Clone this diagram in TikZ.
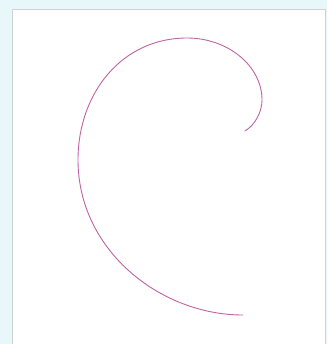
\documentclass[tikz,border=0pt]{standalone}
\usepackage{tikz}
\definecolor{bgcyan}{RGB}{232,248,250}
\definecolor{framegray}{RGB}{205,210,212}
\definecolor{curvepink}{RGB}{190,100,165}

\begin{document}
\begin{tikzpicture}[
        x=1pt, y=-1pt,
        frame/.style={draw=framegray, fill=white, line width=0.8pt},
        spiral/.style={draw=curvepink, line width=0.9pt, line cap=round}
    ]
    
    \useasboundingbox[fill=bgcyan] (0,0) rectangle (327,344);
    \path[frame] (12,9) rectangle (325,346);
    
    \path[spiral] (245,131)
        .. controls (255,125) and (262,112) .. (262,100)
        .. controls (262,66) and (228,38) .. (187,38)
        .. controls (122,38) and (78,93) .. (78,160)
        .. controls (78,250) and (160,315) .. (243,315);
    
\end{tikzpicture}
\end{document}
